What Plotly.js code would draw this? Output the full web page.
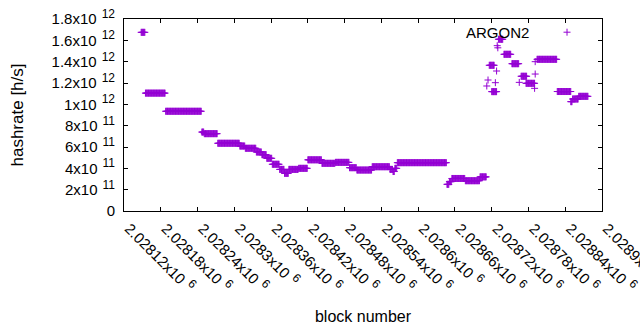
<!DOCTYPE html>
<html><head><meta charset="utf-8">
<script src="https://cdn.plot.ly/plotly-3.0.1.min.js"></script>
<style>html,body{margin:0;padding:0;background:#fff}#chart{width:640px;height:330px}</style>
</head><body><div id="chart"></div>
<script>
const seriesName = 'ARGON2';
// runs of consecutive blocks sharing the same hashrate
const runStart = [2028148,2028155,2028188,2028247,2028251,2028273,2028309,2028318,2028336,2028345,2028353,2028362,2028374,2028382,2028389,2028405,2028420,2028443,2028465,2028488,2028500,2028525,2028554,2028559,2028562,2028566,2028647,2028651,2028655,2028677,2028701,
  2028712,2028714,2028716,2028720,2028726,2028728,2028729,2028730,2028731,2028740,2028753,2028765,2028768,2028776,2028790,2028791,2028791,2028794,2028827,2028849,2028852,2028862];
const runEnd   = [2028154,2028187,2028246,2028250,2028272,2028308,2028317,2028335,2028344,2028352,2028361,2028373,2028381,2028388,2028404,2028419,2028442,2028464,2028487,2028499,2028524,2028553,2028558,2028561,2028565,2028646,2028650,2028654,2028676,2028700,2028711,
  2028712,2028714,2028724,2028728,2028726,2028728,2028729,2028730,2028738,2028751,2028764,2028765,2028777,2028790,2028790,2028791,2028791,2028826,2028849,2028851,2028861,2028877];
const runHashrate = [1.675e12,1.105e12,0.935e12,0.74e12,0.725e12,0.635e12,0.609e12,0.588e12,0.553e12,0.528e12,0.494e12,0.438e12,0.39e12,0.353e12,0.39e12,0.40e12,0.48e12,0.447e12,0.456e12,0.406e12,0.384e12,0.415e12,0.39e12,0.37e12,0.40e12,0.453e12,0.25e12,0.275e12,0.305e12,0.284e12,0.32e12,
  1.172e12,1.228e12,1.366e12,1.119e12,1.203e12,1.3125e12,1.55e12,1.53e12,1.61e12,1.469e12,1.381e12,1.206e12,1.263e12,1.197e12,1.15e12,1.284e12,1.40e12,1.422e12,1.12e12,1.025e12,1.05e12,1.075e12];

const xTickVals = [2028120,2028180,2028240,2028300,2028360,2028420,2028480,2028540,2028600,2028660,2028720,2028780,2028840,2028900];
const xTickMantissa = ['2.02812','2.02818','2.02824','2.0283','2.02836','2.02842','2.02848','2.02854','2.0286','2.02866','2.02872','2.02878','2.02884','2.0289'];
const xTickExponent = ['6','6','6','6','6','6','6','6','6','6','6','6','6','6'];
const yTickVals = [0,2e11,4e11,6e11,8e11,1e12,1.2e12,1.4e12,1.6e12,1.8e12];
const yTickMantissa = ['0','2','4','6','8','1','1.2','1.4','1.6','1.8'];
const yTickExponent = ['','11','11','11','11','12','12','12','12','12'];

function sci(m, e) {
  if (!e) return m;
  return m + 'x10\u2004<sup><span style="font-size:12px">' + e + '</span></sup>';
}
const xTickText = xTickMantissa.map((m, i) => sci(m, xTickExponent[i]));
const yTickText = yTickMantissa.map((m, i) => sci(m, yTickExponent[i]));

const blocks = [], rates = [];
for (let i = 0; i < runStart.length; i++) {
  for (let b = runStart[i]; b <= runEnd[i]; b++) { blocks.push(b); rates.push(runHashrate[i]); }
}

const color = '#9400D3';
const font = {family: 'Liberation Sans, Arial, sans-serif', size: 15, color: '#000'};

const trace = {
  x: blocks, y: rates, type: 'scatter', mode: 'markers', name: ' ',
  marker: {symbol: 'cross-thin-open', size: 5, color: color, line: {color: color, width: 1}},
  showlegend: true, hoverinfo: 'skip', cliponaxis: true
};

const axisCommon = {
  showline: true, linecolor: '#000', linewidth: 1, mirror: 'ticks',
  ticks: 'inside', ticklen: 4, tickcolor: '#000', tickwidth: 1,
  showgrid: false, zeroline: false, tickmode: 'array', tickfont: font, automargin: false,
  ticklabeloverflow: 'allow'
};

const layout = {
  width: 640, height: 330,
  margin: {l: 124, r: 38, t: 19, b: 119},
  paper_bgcolor: '#fff', plot_bgcolor: '#fff',
  font: font,
  xaxis: Object.assign({}, axisCommon, {
    range: [2028120, 2028900], tickvals: xTickVals, ticktext: xTickText, tickangle: 45,
    ticklabelshift: 5, ticklabelstandoff: 2,
    title: {text: 'block number', font: Object.assign({}, font, {size: 16}), standoff: 15}
  }),
  yaxis: Object.assign({}, axisCommon, {
    range: [0, 1.8e12], tickvals: yTickVals, ticktext: yTickText,
    ticklabelstandoff: 5,
    title: {text: 'hashrate [h/s]', font: Object.assign({}, font, {size: 17}), standoff: 23}
  }),
  showlegend: true,
  legend: {x: 0.885, y: 0.93, xanchor: 'left', yanchor: 'middle', bgcolor: 'rgba(0,0,0,0)', font: font, borderwidth: 0},
  annotations: [{
    xref: 'paper', yref: 'paper', x: 0.851, y: 0.93, xanchor: 'right', yanchor: 'middle',
    text: seriesName, showarrow: false, font: font
  }]
};

Plotly.newPlot('chart', [trace], layout, {staticPlot: true, displayModeBar: false});
</script>
</body></html>
